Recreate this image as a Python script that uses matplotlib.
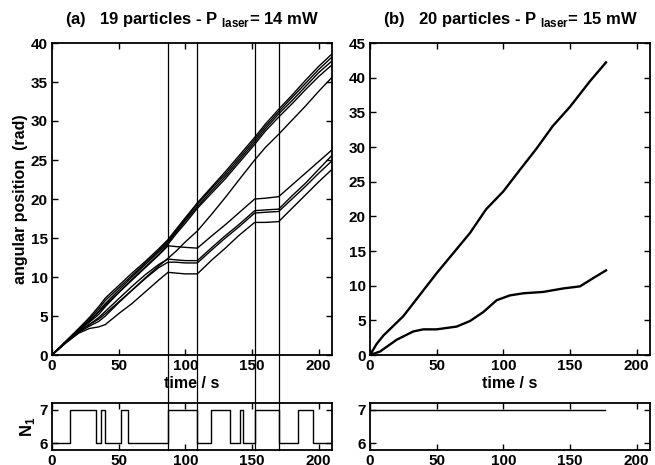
import matplotlib
matplotlib.use("Agg")
import matplotlib.pyplot as plt
import matplotlib.transforms as mtransforms

plt.rcParams['font.family'] = ['Liberation Sans', 'DejaVu Sans']
plt.rcParams['font.weight'] = 'bold'
plt.rcParams['mathtext.fontset'] = 'custom'
plt.rcParams['mathtext.bf'] = 'Liberation Sans:bold'
plt.rcParams['mathtext.rm'] = 'Liberation Sans:bold'

# ---------------- data: panel (a) ----------------
t_a = [0, 10, 20, 28, 35, 40, 50, 60, 70, 80, 87, 93, 100, 109, 120, 130, 140, 152, 160, 170, 180, 190, 200, 210]
a1 = [0, 1.7, 3.4, 4.8, 6.2, 7.3, 8.9, 10.5, 12.0, 13.6, 14.8, 16.1, 17.6, 19.5, 21.6, 23.5, 25.5, 27.9, 29.6, 31.5, 33.3, 35.2, 37.0, 38.6]
a2 = [0, 1.7, 3.3, 4.6, 5.9, 7.0, 8.6, 10.2, 11.8, 13.4, 14.6, 15.9, 17.4, 19.3, 21.4, 23.2, 25.2, 27.6, 29.3, 31.2, 33.0, 34.8, 36.6, 38.2]
a3 = [0, 1.6, 3.2, 4.4, 5.6, 6.6, 8.3, 10.0, 11.6, 13.2, 14.4, 15.7, 17.2, 19.0, 21.1, 22.9, 24.9, 27.3, 29.0, 30.9, 32.6, 34.4, 36.2, 37.7]
a4 = [0, 1.6, 3.1, 4.2, 5.2, 6.2, 8.0, 9.7, 11.3, 12.9, 14.2, 15.5, 16.9, 18.8, 20.8, 22.6, 24.6, 27.0, 28.7, 30.5, 32.2, 34.0, 35.7, 37.2]
b1 = [0, 1.6, 3.0, 3.9, 4.6, 5.3, 6.8, 8.3, 9.9, 11.4, 12.4, 13.3, 14.5, 15.9, 18.1, 20.2, 22.4, 25.0, 26.6, 28.3, 30.1, 31.9, 33.8, 35.6]
c1 = [0, 1.6, 3.2, 4.3, 5.5, 6.4, 8.0, 9.6, 11.2, 12.8, 14.0, 13.9, 13.8, 13.7, 15.3, 16.7, 18.2, 20.0, 20.1, 20.3, 21.8, 23.3, 24.8, 26.3]
c2 = [0, 1.6, 3.0, 3.9, 4.8, 5.6, 7.2, 8.8, 10.3, 11.6, 12.3, 12.2, 12.1, 12.1, 13.8, 15.3, 16.7, 18.5, 18.6, 18.7, 20.4, 22.0, 23.8, 25.6]
c3 = [0, 1.5, 2.9, 3.7, 4.3, 5.0, 6.7, 8.3, 9.8, 11.2, 11.9, 11.9, 11.8, 11.8, 13.5, 15.0, 16.4, 18.2, 18.3, 18.4, 20.0, 21.6, 23.3, 24.9]
c4 = [0, 1.5, 2.8, 3.4, 3.6, 3.9, 5.3, 6.6, 8.1, 9.6, 10.6, 10.5, 10.4, 10.4, 12.2, 13.7, 15.3, 17.0, 17.0, 17.1, 18.8, 20.5, 22.2, 23.8]
series_a = [a1, a2, a3, a4, b1, c1, c2, c3, c4]

# switching times (vertical lines)
t_switch = [87, 109, 152, 170]

# N1 step signal, panel (a)
n1_t = [0, 13.5, 13.5, 33, 33, 36.8, 36.8, 39.8, 39.8, 51.5, 51.5, 57.3, 57.3, 87,
        87, 109, 109, 119, 119, 133.5, 133.5, 141, 141, 143.5, 143.5, 152.5,
        152.5, 170, 170, 184.8, 184.8, 195.6, 195.6, 210]
n1_v = [6, 6, 7, 7, 6, 6, 7, 7, 6, 6, 7, 7, 6, 6,
        7, 7, 6, 6, 7, 7, 6, 6, 7, 7, 6, 6,
        7, 7, 6, 6, 7, 7, 6, 6]

# ---------------- data: panel (b) ----------------
t_b_top = [0, 5, 10, 25, 50, 75, 87, 100, 112, 125, 137, 150, 165, 177]
b_top = [0, 1.6, 2.8, 5.6, 11.8, 17.6, 21.0, 23.6, 26.6, 29.8, 33.0, 35.8, 39.5, 42.2]
t_b_bot = [0, 7.5, 20, 32.5, 40, 50, 65, 75, 85, 95, 105, 115, 130, 145, 157.5, 167.5, 177]
b_bot = [0, 0.5, 2.2, 3.4, 3.7, 3.7, 4.1, 4.9, 6.2, 7.9, 8.6, 8.9, 9.1, 9.6, 9.9, 11.1, 12.2]
n1b_t = [0, 176]
n1b_v = [7, 7]

# ---------------- figure ----------------
W, H = 655, 465
fig = plt.figure(figsize=(W / 100, H / 100), dpi=100)

def fx(px):
    return px / W

def fy(py):
    return 1 - py / H

axA = fig.add_axes([fx(52), fy(355), fx(332) - fx(52), fy(43) - fy(355)])
axB = fig.add_axes([fx(370), fy(355), fx(650) - fx(370), fy(43) - fy(355)])
axA2 = fig.add_axes([fx(52), fy(450), fx(332) - fx(52), fy(403) - fy(450)])
axB2 = fig.add_axes([fx(370), fy(450), fx(650) - fx(370), fy(403) - fy(450)])

def style(ax):
    for s in ax.spines.values():
        s.set_linewidth(1.3)
    ax.tick_params(direction='in', length=4, width=1.0, top=True, right=True,
                   labelsize=11, pad=3)
    for lab in ax.get_xticklabels() + ax.get_yticklabels():
        lab.set_fontweight('bold')

for y in series_a:
    axA.plot(t_a, y, color='black', lw=1.0)
axA.set_xlim(0, 210)
axA.set_ylim(0, 40)
axA.set_xticks([0, 50, 100, 150, 200])
axA.set_yticks(range(0, 41, 5))
axA.set_xlabel('time / s', fontsize=11.5, fontweight='bold', labelpad=2)
axA.set_ylabel('angular position  (rad)', fontsize=11.5, fontweight='bold', labelpad=2)
axA.set_title(r'(a)   19 particles - P $_{\mathbf{laser}}$= 14 mW', fontsize=12,
              fontweight='bold', pad=14)

axB.plot(t_b_top, b_top, color='black', lw=1.7)
axB.plot(t_b_bot, b_bot, color='black', lw=1.7)
axB.set_xlim(0, 210)
axB.set_ylim(0, 45)
axB.set_xticks([0, 50, 100, 150, 200])
axB.set_yticks(range(0, 46, 5))
axB.set_xlabel('time / s', fontsize=11.5, fontweight='bold', labelpad=2)
axB.set_title(r'(b)   20 particles - P $_{\mathbf{laser}}$= 15 mW', fontsize=12,
              fontweight='bold', pad=14)

axA2.plot(n1_t, n1_v, color='black', lw=1.0)
axA2.set_xlim(0, 210)
axA2.set_ylim(5.8, 7.2)
axA2.set_xticks([0, 50, 100, 150, 200])
axA2.set_yticks([6, 7])
axA2.set_ylabel(r'N$_{\mathbf{1}}$', fontsize=12, fontweight='bold', labelpad=2)

axB2.plot(n1b_t, n1b_v, color='black', lw=1.0)
axB2.set_xlim(0, 210)
axB2.set_ylim(5.8, 7.2)
axB2.set_xticks([0, 50, 100, 150, 200])
axB2.set_yticks([6, 7])

for ax in (axA, axB, axA2, axB2):
    style(ax)

# vertical switching lines spanning main and N1 axes
trans = mtransforms.blended_transform_factory(axA.transData, fig.transFigure)
for ts in t_switch:
    fig.add_artist(plt.Line2D([ts, ts], [fy(43), fy(450)], transform=trans,
                              color='black', lw=0.9))

fig.savefig('out.png', dpi=100)
